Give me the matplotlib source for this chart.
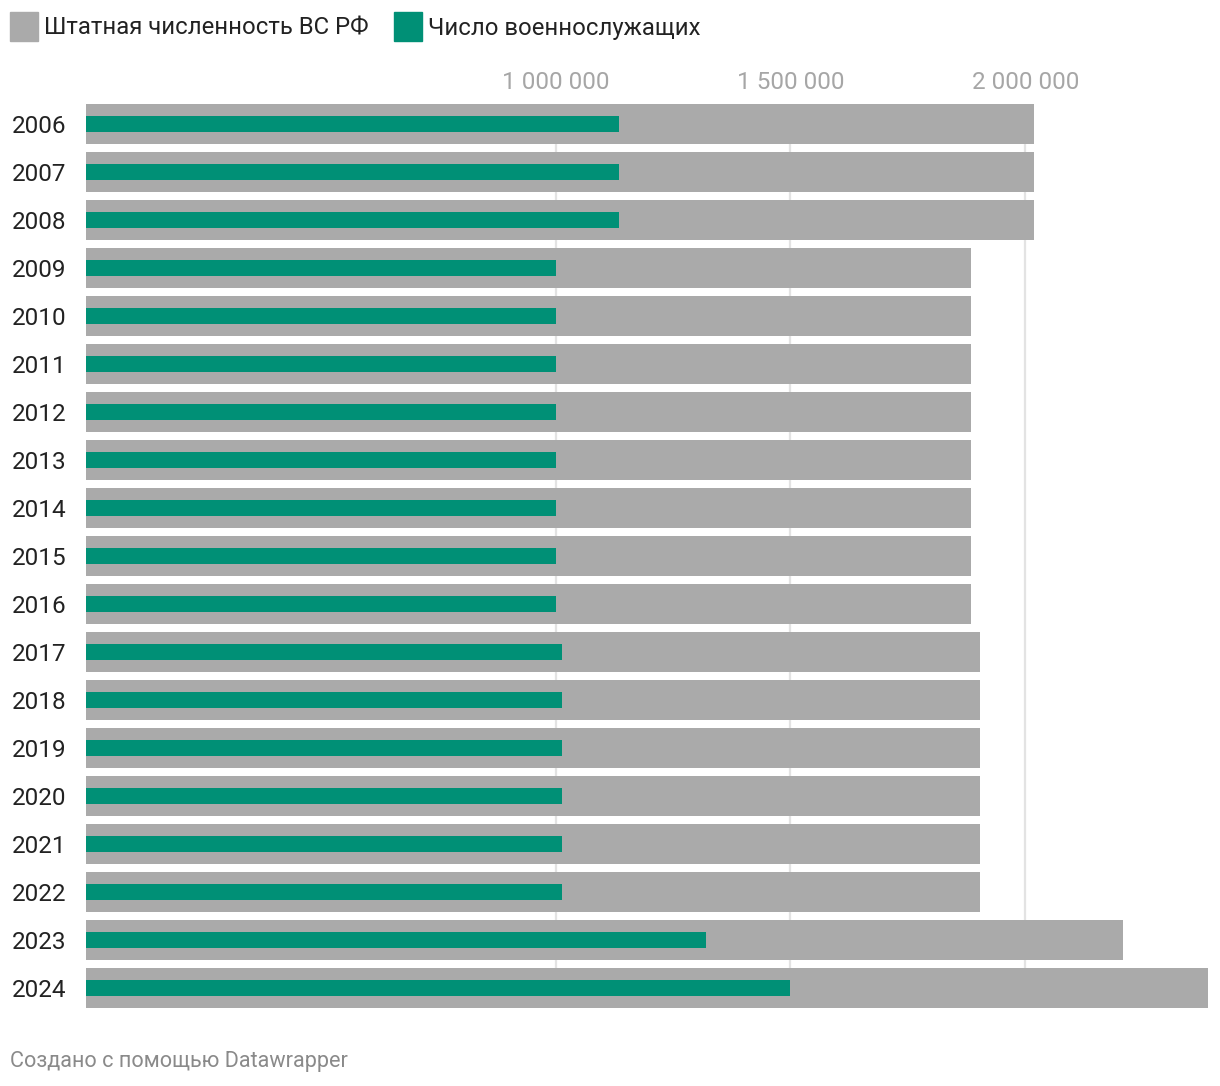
import matplotlib.pyplot as plt
from matplotlib.patches import Rectangle

plt.rcParams['font.family'] = ['Roboto', 'DejaVu Sans']

years = ['2006', '2007', '2008', '2009', '2010', '2011', '2012', '2013', '2014',
         '2015', '2016', '2017', '2018', '2019', '2020', '2021', '2022', '2023', '2024']
total = [2019629, 2019629, 2019629, 1884829, 1884829, 1884829, 1884829, 1884829,
         1884829, 1884829, 1884829, 1902758, 1902758, 1902758, 1902758, 1902758,
         1902758, 2209130, 2389130]
military = [1134800, 1134800, 1134800, 1000000, 1000000, 1000000, 1000000, 1000000,
            1000000, 1000000, 1000000, 1013628, 1013628, 1013628, 1013628, 1013628,
            1013628, 1320000, 1500000]
ticks = [1000000, 1500000, 2000000]
legend_labels = ['Штатная численность ВС РФ', 'Число военнослужащих']

gray = '#aaaaaa'
green = '#009076'

W, H = 1220, 1086
fig = plt.figure(figsize=(W / 100, H / 100), dpi=100)
ax = fig.add_axes([86 / W, (H - 1008) / H, (1208 - 86) / W, 904 / H])

pos = list(range(len(years)))
ax.barh(pos, total, height=40 / 48, color=gray, zorder=2)
ax.barh(pos, military, height=16 / 48, color=green, zorder=3)

ax.set_xlim(0, max(total))
ax.set_ylim(len(years) - 1 + 20 / 48, -20 / 48)

ax.xaxis.tick_top()
ax.set_xticks(ticks)
ax.set_xticklabels([f'{t:,}'.replace(',', ' ') for t in ticks],
                   fontsize=17.5, color='#a6a6a6')
ax.tick_params(axis='x', length=0, pad=7)
ax.set_yticks(pos)
ax.set_yticklabels(years, fontsize=17.5, color='#222222')
ax.tick_params(axis='y', length=0, pad=0)
for lab in ax.get_yticklabels():
    lab.set_horizontalalignment('left')
    lab.set_x(-74 / (1208 - 86))

ax.grid(axis='x', color='#e3e3e3', linewidth=1.6, zorder=1)
for s in ax.spines.values():
    s.set_visible(False)

# legend
legend_x = [10, 394]
for x0, lab, c in zip(legend_x, legend_labels, [gray, green]):
    fig.patches.append(Rectangle((x0 / W, (H - 41) / H), 28 / W, 29 / H,
                                 transform=fig.transFigure, color=c))
    fig.text((x0 + 34) / W, (H - 28) / H, lab, fontsize=17.2, color='#222222',
             va='center', ha='left')

fig.text(10 / W, (H - 1062) / H, 'Создано с помощью Datawrapper',
         fontsize=15.6, color='#8a8a8a', va='center', ha='left')

fig.savefig('out.png', dpi=100)
